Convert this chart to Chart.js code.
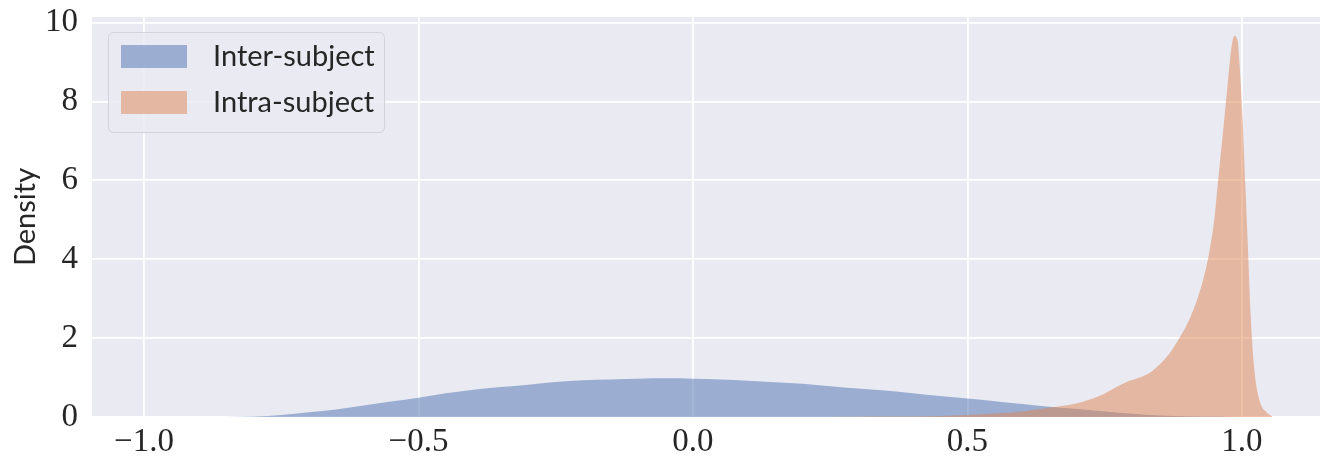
<!DOCTYPE html>
<html>
<head>
<meta charset="utf-8">
<script src="https://cdn.jsdelivr.net/npm/chart.js@4.4.0/dist/chart.umd.min.js"></script>
<style>
  html, body { margin: 0; padding: 0; background: #ffffff; }
  canvas { display: block; }
</style>
</head>
<body>
<canvas id="kde" width="1320" height="459"></canvas>
<script>
// Kernel density estimates of similarity scores
const seriesNames = ['Inter-subject', 'Intra-subject'];

const interX = [-0.85, -0.80, -0.75, -0.70, -0.65, -0.60, -0.55, -0.50, -0.45, -0.40,
                -0.35, -0.30, -0.25, -0.20, -0.15, -0.10, -0.05, 0.00, 0.05, 0.10,
                0.15, 0.20, 0.25, 0.30, 0.35, 0.40, 0.45, 0.50, 0.55, 0.60,
                0.65, 0.70, 0.75, 0.80, 0.85, 0.90, 0.95, 1.00];
const interY = [0.00, 0.01, 0.05, 0.12, 0.19, 0.29, 0.39, 0.49, 0.60, 0.69,
                0.76, 0.82, 0.89, 0.93, 0.95, 0.97, 0.98, 0.97, 0.95, 0.92,
                0.88, 0.84, 0.78, 0.72, 0.67, 0.60, 0.53, 0.47, 0.40, 0.33,
                0.26, 0.20, 0.14, 0.08, 0.04, 0.02, 0.01, 0.00];

const intraX = [0.25, 0.30, 0.35, 0.40, 0.45, 0.50, 0.55, 0.60, 0.65, 0.70,
                0.74, 0.77, 0.79, 0.81, 0.83, 0.85, 0.87, 0.886, 0.90, 0.911,
                0.92, 0.929, 0.941, 0.950, 0.956, 0.962, 0.968, 0.974, 0.980, 0.986,
                0.992, 0.996, 1.001, 1.006, 1.011, 1.016, 1.022, 1.032, 1.044, 1.056];
const intraY = [0.000, 0.005, 0.010, 0.015, 0.025, 0.05, 0.09, 0.14, 0.24, 0.35,
                0.53, 0.75, 0.89, 0.98, 1.10, 1.33, 1.65, 2.00, 2.35, 2.70,
                3.05, 3.46, 4.22, 5.06, 5.91, 6.75, 7.59, 8.44, 9.28, 9.66,
                9.54, 8.86, 7.59, 5.91, 4.22, 2.53, 1.27, 0.42, 0.13, 0.00];

const xTicks = [-1.0, -0.5, 0.0, 0.5, 1.0];
const yTicks = [0, 2, 4, 6, 8, 10];

const blueFill = 'rgba(76, 114, 176, 0.5)';
const orangeFill = 'rgba(221, 132, 82, 0.5)';
const textColor = '#262626';
const panelColor = '#eaeaf2';

const toPoints = (xs, ys) => xs.map((x, i) => ({ x: x, y: ys[i] }));

// Panel background behind the grid
const panelBackground = {
  id: 'panelBackground',
  beforeDraw(chart) {
    const { ctx, chartArea: a } = chart;
    ctx.save();
    ctx.fillStyle = panelColor;
    ctx.fillRect(a.left, a.top, a.right - a.left, a.bottom - a.top);
    ctx.restore();
  }
};

// Legend box drawn inside the upper-left of the panel
const innerLegend = {
  id: 'innerLegend',
  afterDraw(chart) {
    const ctx = chart.ctx;
    const a = chart.chartArea;
    const bx = a.left + 16.5, by = a.top + 15.5, bw = 276, bh = 100, r = 5;
    ctx.save();
    ctx.beginPath();
    ctx.moveTo(bx + r, by);
    ctx.arcTo(bx + bw, by, bx + bw, by + bh, r);
    ctx.arcTo(bx + bw, by + bh, bx, by + bh, r);
    ctx.arcTo(bx, by + bh, bx, by, r);
    ctx.arcTo(bx, by, bx + bw, by, r);
    ctx.closePath();
    ctx.fillStyle = 'rgba(234, 234, 242, 0.8)';
    ctx.fill();
    ctx.strokeStyle = '#d3d3da';
    ctx.lineWidth = 1;
    ctx.stroke();

    ctx.font = '29px Lato';
    ctx.textBaseline = 'middle';
    ctx.textAlign = 'left';
    chart.data.datasets.forEach((ds, i) => {
      const sy = a.top + 28 + i * 46;
      ctx.fillStyle = panelColor;
      ctx.fillRect(a.left + 29, sy, 66, 23);
      ctx.fillStyle = ds.backgroundColor;
      ctx.fillRect(a.left + 29, sy, 66, 23);
      ctx.fillStyle = textColor;
      ctx.fillText(ds.label, a.left + 121, sy + 12);
    });
    ctx.restore();
  }
};

const fmtTick = v => (v < 0 ? '\u2212' : '') + Math.abs(v).toFixed(1);

new Chart(document.getElementById('kde'), {
  type: 'line',
  data: {
    datasets: [
      {
        label: seriesNames[0],
        data: toPoints(interX, interY),
        backgroundColor: blueFill,
        borderWidth: 0,
        borderColor: 'rgba(0,0,0,0)',
        fill: 'origin',
        pointRadius: 0,
        cubicInterpolationMode: 'monotone',
        order: 2
      },
      {
        label: seriesNames[1],
        data: toPoints(intraX, intraY),
        backgroundColor: orangeFill,
        borderWidth: 0,
        borderColor: 'rgba(0,0,0,0)',
        fill: 'origin',
        pointRadius: 0,
        cubicInterpolationMode: 'monotone',
        order: 1
      }
    ]
  },
  options: {
    responsive: false,
    animation: false,
    layout: { padding: { top: 17, right: 0, bottom: 0, left: 0 } },
    plugins: {
      legend: { display: false },
      tooltip: { enabled: false }
    },
    scales: {
      x: {
        type: 'linear',
        min: -1.0947,
        max: 1.1421,
        border: { display: false },
        grid: { color: '#ffffff', lineWidth: 1.8, drawTicks: false },
        afterBuildTicks: s => { s.ticks = xTicks.map(v => ({ value: v })); },
        afterFit: s => { s.height = 42; s.paddingLeft = 0; s.paddingRight = 0; },
        ticks: {
          color: textColor,
          font: { family: 'Liberation Serif', size: 33 },
          padding: 6,
          maxRotation: 0,
          callback: v => fmtTick(v)
        }
      },
      y: {
        type: 'linear',
        min: 0,
        max: 10.14,
        border: { display: false },
        grid: { color: '#ffffff', lineWidth: 1.8, drawTicks: false },
        afterBuildTicks: s => { s.ticks = yTicks.map(v => ({ value: v })); },
        afterFit: s => { s.width = 92; s.paddingTop = 0; s.paddingBottom = 0; },
        ticks: {
          color: textColor,
          font: { family: 'Liberation Serif', size: 33 },
          padding: 14,
          callback: v => String(v)
        },
        title: {
          display: true,
          text: 'Density',
          color: textColor,
          font: { family: 'Lato', size: 29 },
          padding: { top: 8, bottom: 0 }
        }
      }
    }
  },
  plugins: [panelBackground, innerLegend]
});
</script>
</body>
</html>
